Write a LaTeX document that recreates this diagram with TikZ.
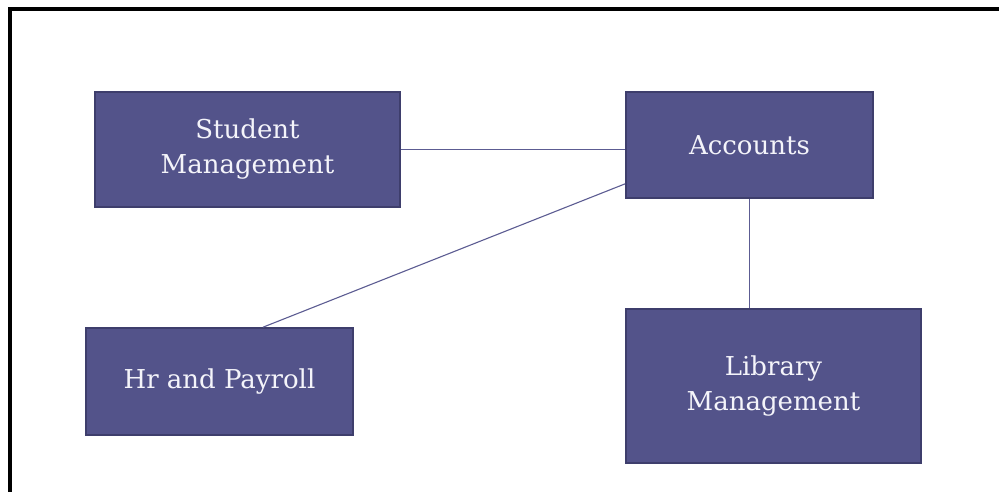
\documentclass[tikz,border=0pt]{standalone}
\usepackage{fontspec}
\setmainfont{DejaVu Serif}
\usetikzlibrary{calc}

\definecolor{boxfill}{HTML}{53538A}
\definecolor{boxline}{HTML}{3E3E6C}
\definecolor{linkline}{HTML}{5C5C92}
\definecolor{boxtext}{HTML}{F4F4FA}

\tikzset{
  module/.style={draw=boxline, line width=1.6pt, fill=boxfill, text=boxtext,
    align=center, font=\fontsize{26}{35}\selectfont, inner sep=0pt},
  link/.style={draw=linkline, line width=1.1pt}
}

\begin{document}
\begin{tikzpicture}[x=1pt, y=-1pt]
  \useasboundingbox[fill=white] (0,0) rectangle (1001,492);
  \draw[line width=4pt] (10,492) -- (10,9) -- (999,9);
  \node[module, minimum width=305pt, minimum height=115pt] (stud) at (247.5,149.5) {Student\\Management};
  \node[module, minimum width=247pt, minimum height=106pt] (acc)  at (749.5,145)   {Accounts};
  \node[module, minimum width=267pt, minimum height=107pt] (hr)   at (219.5,381.5) {Hr and Payroll};
  \node[module, minimum width=295pt, minimum height=154pt] (lib)  at (773.5,386)   {Library\\Management};
  \draw[link] (stud.east) -- (stud.east -| acc.west);
  \draw[link] ($(acc.south west)+(0,-15)$) -- ($(hr.north)+(43.5,0)$);
  \draw[link] (acc.south) -- (acc.south |- lib.north);
\end{tikzpicture}
\end{document}
